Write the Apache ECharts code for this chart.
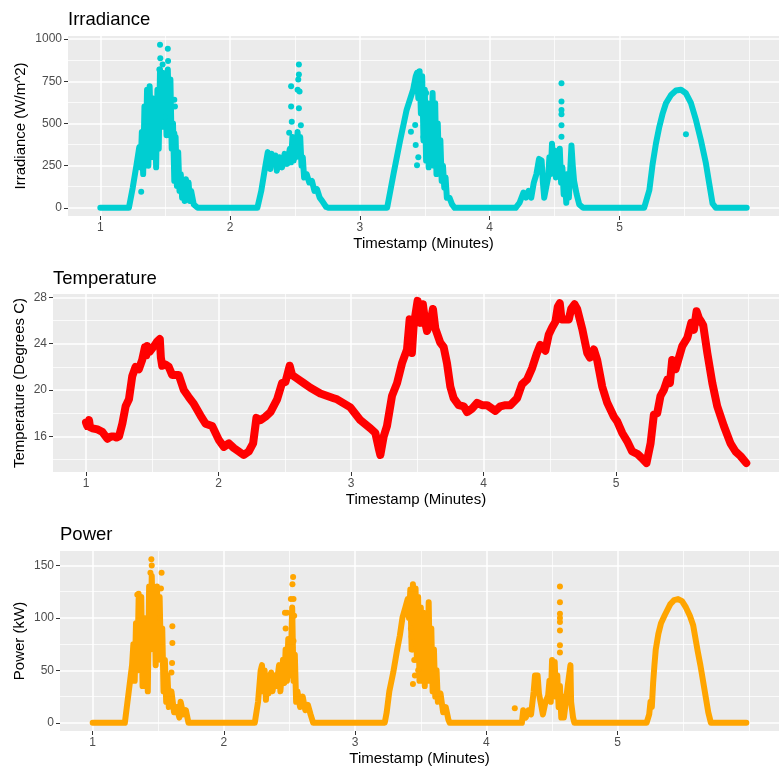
<!DOCTYPE html>
<html>
<head>
<meta charset="utf-8">
<script src="https://cdn.jsdelivr.net/npm/echarts@6/dist/echarts.min.js"></script>
<style>
  html, body { margin: 0; padding: 0; background: #ffffff; }
  #chart { width: 779px; height: 766px; }
</style>
</head>
<body>
<div id="chart"></div>
<script>
// Tick values shared by the three panels
const xTicks = [1, 2, 3, 4, 5];
const xMinorBreaks = [1.5, 2.5, 3.5, 4.5, 5.5, 6];
const irradianceTicks = [0, 250, 500, 750, 1000];
const irradianceMinor = [125, 375, 625, 875];
const temperatureTicks = [16, 20, 24, 28];
const temperatureMinor = [14, 18, 22, 26];
const powerTicks = [0, 50, 100, 150];
const powerMinor = [25, 75, 125];

// Irradiance (W/m^2) against time, continuous trace
const irradianceTrace = [
  [1.00, 0], [1.22, 0], [1.25, 120], [1.28, 260], [1.30, 360], [1.31, 240], [1.32, 450], [1.33, 200],
  [1.34, 600], [1.35, 320], [1.36, 700], [1.37, 250], [1.38, 720], [1.39, 420], [1.40, 650], [1.41, 300],
  [1.42, 560], [1.43, 240], [1.44, 700], [1.45, 350], [1.46, 820], [1.47, 480], [1.48, 800], [1.49, 540],
  [1.50, 780], [1.51, 430], [1.52, 820], [1.53, 500], [1.54, 760], [1.55, 350], [1.56, 500], [1.57, 160],
  [1.58, 420], [1.59, 130], [1.60, 330], [1.61, 100], [1.62, 200], [1.63, 60], [1.64, 120], [1.65, 40],
  [1.66, 170], [1.67, 80], [1.68, 150], [1.69, 40], [1.70, 100], [1.72, 20], [1.75, 0],
  [2.21, 0], [2.24, 100], [2.27, 240], [2.29, 330], [2.30, 300], [2.31, 230], [2.32, 320], [2.33, 280],
  [2.35, 310], [2.36, 220], [2.38, 300], [2.40, 240], [2.42, 320], [2.44, 260], [2.46, 350], [2.47, 270],
  [2.48, 420], [2.49, 280], [2.50, 400], [2.51, 300], [2.52, 450], [2.53, 340], [2.54, 420], [2.55, 250],
  [2.56, 300], [2.57, 180], [2.59, 200], [2.61, 150], [2.63, 160], [2.65, 100], [2.67, 110], [2.69, 60],
  [2.71, 40], [2.74, 5], [2.76, 0],
  [3.21, 0], [3.26, 205], [3.31, 400], [3.36, 580], [3.41, 700], [3.43, 780], [3.44, 800], [3.45, 650],
  [3.46, 810], [3.47, 560], [3.48, 780], [3.49, 400], [3.50, 700], [3.51, 280], [3.52, 620], [3.53, 240],
  [3.54, 600], [3.55, 350], [3.56, 680], [3.57, 250], [3.58, 620], [3.59, 200], [3.60, 500], [3.61, 220],
  [3.62, 400], [3.63, 160], [3.64, 250], [3.65, 120], [3.66, 180], [3.67, 60], [3.69, 60], [3.71, 20],
  [3.73, 0],
  [4.20, 0], [4.23, 30], [4.26, 90], [4.28, 60], [4.30, 100], [4.32, 60], [4.34, 150], [4.36, 200],
  [4.38, 290], [4.40, 280], [4.41, 150], [4.42, 60], [4.43, 100], [4.45, 180], [4.46, 300], [4.47, 200],
  [4.48, 380], [4.49, 250], [4.50, 340], [4.51, 180], [4.52, 330], [4.53, 200], [4.54, 350], [4.55, 150],
  [4.56, 240], [4.57, 80], [4.58, 160], [4.59, 30], [4.60, 200], [4.61, 60], [4.63, 370], [4.64, 250],
  [4.65, 160], [4.67, 80], [4.69, 20], [4.72, 0],
  [5.19, 0], [5.23, 105], [5.256, 263], [5.281, 382], [5.307, 481], [5.333, 560], [5.358, 620],
  [5.397, 669], [5.435, 695], [5.474, 700], [5.512, 679], [5.551, 620], [5.589, 521], [5.627, 402],
  [5.666, 263], [5.691, 145], [5.717, 26], [5.742, 0], [5.98, 0]
];

// Irradiance readings that stand apart from the trace
const irradianceSpots = [
  [1.46, 966], [1.462, 887], [1.52, 943], [1.522, 871], [1.315, 95], [1.57, 640], [1.575, 600],
  [1.57, 440], [1.50, 540], [1.48, 850], [1.455, 820],
  [2.47, 720], [2.47, 600], [2.475, 510], [2.455, 445], [2.53, 850], [2.53, 790], [2.525, 760],
  [2.535, 690], [2.53, 590], [2.545, 490], [2.52, 700],
  [3.393, 451], [3.426, 491], [3.43, 372], [3.44, 253], [3.48, 600], [3.49, 420], [3.51, 680], [3.45, 300],
  [4.553, 738], [4.553, 630], [4.553, 580], [4.553, 555], [4.553, 490], [4.553, 421],
  [5.512, 436]
];

// Temperature (degrees C) against time
const temperatureTrace = [
  [1.00, 17.2], [1.01, 16.9], [1.023, 17.4], [1.03, 16.8], [1.05, 16.7], [1.086, 16.6], [1.123, 16.4],
  [1.161, 15.8], [1.19, 16.0], [1.211, 16.0], [1.23, 15.9], [1.249, 16.0], [1.274, 17.1], [1.299, 18.6],
  [1.324, 19.2], [1.349, 21.2], [1.374, 22.0], [1.399, 21.8], [1.424, 22.6], [1.445, 23.7], [1.455, 23.0],
  [1.462, 23.8], [1.48, 23.3], [1.50, 23.6], [1.52, 23.9], [1.537, 24.2], [1.557, 24.4], [1.565, 22.8],
  [1.575, 22.1], [1.60, 22.2], [1.625, 22.0], [1.65, 21.3], [1.70, 21.3], [1.738, 20.0], [1.775, 19.4],
  [1.814, 18.8], [1.864, 17.8], [1.902, 17.1], [1.952, 16.9], [2.002, 15.7], [2.04, 15.1], [2.078, 15.4],
  [2.115, 15.0], [2.153, 14.7], [2.19, 14.4], [2.228, 14.7], [2.261, 15.4], [2.286, 17.6], [2.316, 17.4],
  [2.354, 17.7], [2.392, 18.1], [2.442, 19.2], [2.479, 20.6], [2.505, 20.7], [2.537, 22.1], [2.555, 21.3],
  [2.593, 21.0], [2.643, 20.6], [2.693, 20.2], [2.768, 19.7], [2.869, 19.3], [2.894, 19.2], [2.995, 18.5],
  [3.07, 17.4], [3.146, 16.7], [3.183, 16.3], [3.208, 15.0], [3.221, 14.4], [3.246, 16.0], [3.271, 16.9],
  [3.309, 19.5], [3.347, 20.6], [3.384, 22.3], [3.422, 23.5], [3.442, 26.1], [3.459, 23.2], [3.472, 25.5],
  [3.502, 27.7], [3.522, 25.8], [3.542, 27.4], [3.56, 25.8], [3.573, 25.1], [3.598, 25.8], [3.618, 27.0],
  [3.636, 25.3], [3.673, 24.1], [3.699, 23.7], [3.724, 22.3], [3.749, 20.3], [3.774, 19.3], [3.812, 18.7],
  [3.85, 18.6], [3.875, 18.1], [3.913, 18.4], [3.951, 18.9], [3.988, 18.7], [4.026, 18.7], [4.064, 18.4],
  [4.089, 18.2], [4.127, 18.6], [4.165, 18.7], [4.202, 18.7], [4.253, 19.3], [4.29, 20.5], [4.328, 20.9],
  [4.366, 21.9], [4.403, 23.2], [4.428, 23.9], [4.466, 23.4], [4.492, 24.8], [4.517, 25.4], [4.542, 25.9],
  [4.56, 27.2], [4.575, 27.5], [4.588, 26.1], [4.618, 26.1], [4.643, 26.1], [4.661, 27.0], [4.686, 27.4],
  [4.706, 27.0], [4.744, 25.3], [4.782, 23.2], [4.802, 22.8], [4.832, 23.5], [4.857, 22.6], [4.895, 20.3],
  [4.933, 18.9], [4.983, 17.7], [5.008, 17.3], [5.046, 16.3], [5.083, 15.6], [5.121, 14.7], [5.159, 14.5],
  [5.197, 14.1], [5.229, 13.7], [5.26, 15.4], [5.285, 17.9], [5.31, 18.0], [5.335, 19.5], [5.36, 20.0],
  [5.386, 20.9], [5.406, 20.6], [5.423, 22.6], [5.449, 21.8], [5.469, 22.6], [5.499, 23.8], [5.537, 24.5],
  [5.567, 25.8], [5.587, 25.2], [5.607, 26.8], [5.625, 26.2], [5.642, 25.9], [5.657, 25.6], [5.688, 23.2],
  [5.726, 20.6], [5.763, 18.6], [5.813, 16.9], [5.863, 15.4], [5.901, 14.7], [5.939, 14.3], [5.982, 13.7]
];

// Power (kW) against time, continuous trace
const powerTrace = [
  [1.00, 0], [1.245, 0], [1.26, 15], [1.28, 35], [1.30, 55], [1.31, 75], [1.32, 40], [1.33, 95],
  [1.34, 50], [1.35, 118], [1.36, 60], [1.37, 120], [1.38, 35], [1.39, 100], [1.40, 45], [1.41, 80],
  [1.42, 30], [1.43, 130], [1.44, 70], [1.45, 140], [1.46, 90], [1.47, 125], [1.48, 55], [1.49, 130],
  [1.50, 80], [1.51, 120], [1.52, 60], [1.53, 90], [1.54, 30], [1.55, 60], [1.56, 20], [1.57, 45],
  [1.58, 15], [1.60, 30], [1.62, 10], [1.64, 15], [1.66, 5], [1.67, 20], [1.69, 8], [1.71, 12], [1.73, 0],
  [2.235, 0], [2.26, 20], [2.28, 50], [2.29, 55], [2.30, 30], [2.31, 50], [2.32, 22], [2.33, 45],
  [2.34, 28], [2.36, 48], [2.37, 30], [2.39, 45], [2.40, 35], [2.42, 55], [2.43, 30], [2.45, 60],
  [2.46, 38], [2.47, 70], [2.48, 40], [2.49, 80], [2.50, 45], [2.51, 60], [2.52, 110], [2.53, 40],
  [2.54, 65], [2.55, 20], [2.56, 30], [2.58, 15], [2.60, 25], [2.62, 12], [2.64, 17], [2.66, 8], [2.68, 0],
  [3.225, 0], [3.24, 10], [3.26, 30], [3.29, 48], [3.32, 70], [3.34, 83], [3.36, 100], [3.38, 109],
  [3.40, 118], [3.41, 100], [3.42, 127], [3.43, 70], [3.44, 132], [3.45, 85], [3.46, 128], [3.47, 60],
  [3.48, 120], [3.49, 40], [3.50, 110], [3.51, 55], [3.52, 105], [3.53, 35], [3.54, 95], [3.55, 50],
  [3.56, 115], [3.57, 40], [3.58, 90], [3.59, 30], [3.60, 70], [3.61, 25], [3.62, 50], [3.63, 20],
  [3.65, 28], [3.67, 10], [3.69, 15], [3.71, 3], [3.72, 0],
  [4.27, 0], [4.28, 12], [4.30, 5], [4.32, 12], [4.34, 8], [4.36, 30], [4.37, 45], [4.39, 45], [4.40, 28],
  [4.42, 15], [4.43, 8], [4.45, 20], [4.47, 26], [4.48, 40], [4.49, 20], [4.50, 60], [4.51, 30], [4.52, 58],
  [4.53, 25], [4.54, 45], [4.55, 15], [4.56, 35], [4.57, 5], [4.58, 25], [4.59, 5], [4.60, 15], [4.62, 36],
  [4.64, 55], [4.645, 20], [4.66, 5], [4.67, 0],
  [5.22, 0], [5.24, 8], [5.25, 20], [5.26, 15], [5.27, 38], [5.28, 55], [5.29, 70], [5.31, 85], [5.33, 95],
  [5.36, 103], [5.40, 113], [5.43, 117], [5.46, 118], [5.49, 116], [5.52, 110], [5.55, 102], [5.575, 93],
  [5.61, 68], [5.63, 55], [5.65, 40], [5.67, 25], [5.69, 10], [5.71, 0], [5.98, 0]
];

// Power readings that stand apart from the trace
const powerSpots = [
  [1.447, 156], [1.45, 150], [1.44, 143], [1.525, 143], [1.52, 128], [1.607, 92], [1.607, 76],
  [1.605, 57], [1.60, 48], [1.34, 122], [1.35, 123], [1.51, 100],
  [2.527, 139], [2.522, 132], [2.51, 118], [2.465, 105], [2.48, 105], [2.47, 90], [2.535, 102],
  [2.53, 118], [2.53, 78], [2.52, 72],
  [3.43, 82], [3.425, 90], [3.44, 70], [3.45, 60], [3.455, 45], [3.44, 37], [3.48, 50],
  [4.216, 14], [4.56, 130], [4.56, 115], [4.56, 104], [4.56, 100], [4.56, 96], [4.56, 88], [4.56, 74], [4.56, 67]
];

const FONT = '"Liberation Sans", Arial, sans-serif';
const X_MIN = 0.751, X_MAX = 6.229;
const MAJOR_W = 1.5, MINOR_W = 0.75;

const panels = [
  { title: 'Irradiance', yName: 'Irradiance (W/m^2)', color: '#00CED1',
    left: 68, top: 36, height: 180, yMin: -48.5, yMax: 1018.5, ticks: irradianceTicks, minor: irradianceMinor,
    nameGap: 40, titleTop: 10 },
  { title: 'Temperature', yName: 'Temperature (Degrees C)', color: '#FF0000',
    left: 53, top: 294, height: 178, yMin: 12.93, yMax: 28.29, ticks: temperatureTicks, minor: temperatureMinor,
    nameGap: 26, titleTop: 269 },
  { title: 'Power', yName: 'Power (kW)', color: '#FFA500',
    left: 60, top: 551, height: 180, yMin: -7.8, yMax: 163.8, ticks: powerTicks, minor: powerMinor,
    nameGap: 33, titleTop: 525 }
];

const grid = panels.map(p => ({
  left: p.left, top: p.top, right: 0, height: p.height,
  show: true, backgroundColor: '#EBEBEB', borderWidth: 0, outerBoundsMode: 'none'
}));

const title = panels.map(p => ({
  text: p.title, left: p.left, top: p.titleTop, padding: 0,
  textStyle: { fontFamily: FONT, fontSize: 18.5, fontWeight: 'normal', color: '#000' }
}));

const xAxis = panels.map((p, i) => ({
  gridIndex: i, type: 'value', min: X_MIN, max: X_MAX,
  name: 'Timestamp (Minutes)', nameLocation: 'middle', nameGap: 20, nameMoveOverlap: false,
  nameTextStyle: { fontFamily: FONT, fontSize: 15, color: '#000' },
  axisLine: { show: false, onZero: false },
  axisTick: { show: true, length: 4, customValues: xTicks, lineStyle: { color: '#333', width: 1 } },
  axisLabel: { fontFamily: FONT, fontSize: 12, color: '#4D4D4D', margin: 6, customValues: xTicks,
    formatter: v => String(v) },
  splitLine: { show: false }
}));

const yAxis = panels.map((p, i) => ({
  gridIndex: i, type: 'value', min: p.yMin, max: p.yMax,
  name: p.yName, nameLocation: 'middle', nameGap: p.nameGap, nameRotate: 90, nameMoveOverlap: false,
  nameTextStyle: { fontFamily: FONT, fontSize: 15, color: '#000' },
  axisLine: { show: false, onZero: false },
  axisTick: { show: true, length: 4, customValues: p.ticks, lineStyle: { color: '#333', width: 1 } },
  axisLabel: { fontFamily: FONT, fontSize: 12, color: '#4D4D4D', margin: 6, customValues: p.ticks,
    formatter: v => String(v) },
  splitLine: { show: false }
}));

// White panel grid: major lines at the ticks, thinner minor lines between them
function gridLineSeries(i, p) {
  const line = (key, v, w) => ({ [key]: v, lineStyle: { color: '#FFFFFF', width: w, type: 'solid' } });
  return {
    type: 'line', xAxisIndex: i, yAxisIndex: i, data: [], silent: true, z: 1,
    markLine: {
      silent: true, symbol: 'none', animation: false, z: 1,
      label: { show: false }, emphasis: { disabled: true },
      data: [
        ...xMinorBreaks.map(v => line('xAxis', v, MINOR_W)),
        ...p.minor.map(v => line('yAxis', v, MINOR_W)),
        ...xTicks.map(v => line('xAxis', v, MAJOR_W)),
        ...p.ticks.map(v => line('yAxis', v, MAJOR_W))
      ]
    }
  };
}

function traceSeries(i, data, color, width) {
  return {
    type: 'line', xAxisIndex: i, yAxisIndex: i, data: data, symbol: 'none', silent: true, z: 3,
    animation: false, lineStyle: { color: color, width: width, join: 'round', cap: 'round' }
  };
}
function spotSeries(i, data, color) {
  return {
    type: 'scatter', xAxisIndex: i, yAxisIndex: i, data: data, symbolSize: 6, silent: true, z: 4,
    animation: false, itemStyle: { color: color, opacity: 1 }
  };
}

const series = [
  ...panels.map((p, i) => gridLineSeries(i, p)),
  traceSeries(0, irradianceTrace, panels[0].color, 6),
  spotSeries(0, irradianceSpots, panels[0].color),
  traceSeries(1, temperatureTrace, panels[1].color, 8),
  traceSeries(2, powerTrace, panels[2].color, 6),
  spotSeries(2, powerSpots, panels[2].color)
];

const chart = echarts.init(document.getElementById('chart'), null, { renderer: 'canvas' });
chart.setOption({ animation: false, backgroundColor: '#fff', title, grid, xAxis, yAxis, series });
</script>
</body>
</html>
